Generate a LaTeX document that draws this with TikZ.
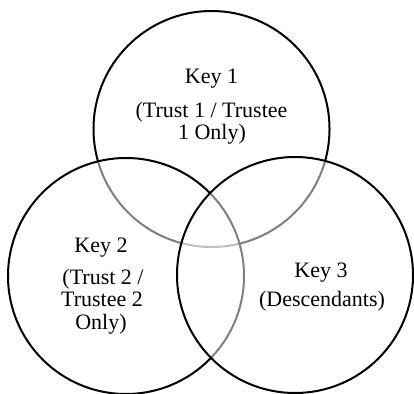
\documentclass[tikz,border=0pt]{standalone}
\usepackage{fontspec}
\setmainfont{Liberation Serif}
\begin{document}
\begin{tikzpicture}[x=1pt,y=-1pt,
  set/.style={circle, draw=black, line width=2pt, fill=white, fill opacity=0.5,
              draw opacity=1, minimum size=236pt, inner sep=0pt},
  label/.style={align=center, inner sep=0pt, anchor=base,
                font=\fontsize{22}{22.5}\selectfont, text opacity=1}]
  \useasboundingbox (0,0) rectangle (414,393);
  % the three key sets, drawn in order so later ones veil earlier outlines
  \node[set] (s1) at (211.5,129) {};
  \node[set] (s2) at (126,276) {};
  \node[set] (s3) at (295,275) {};
  % captions
  \node[label] (k1) at (211.5,84) {Key 1};
  \node[label] (k1a) at (211.5,117) {(Trust 1 / Trustee};
  \node[label] (k1b) at (212,139.5) {1 Only)};
  \node[label] (k2) at (101,252) {Key 2};
  \node[label] (k2a) at (103,284) {(Trust 2 /};
  \node[label] (k2b) at (102,306.5) {Trustee 2};
  \node[label] (k2c) at (101,329) {Only)};
  \node[label] (k3) at (321,277) {Key 3};
  \node[label] (k3a) at (322,306.5) {(Descendants)};
\end{tikzpicture}
\end{document}
